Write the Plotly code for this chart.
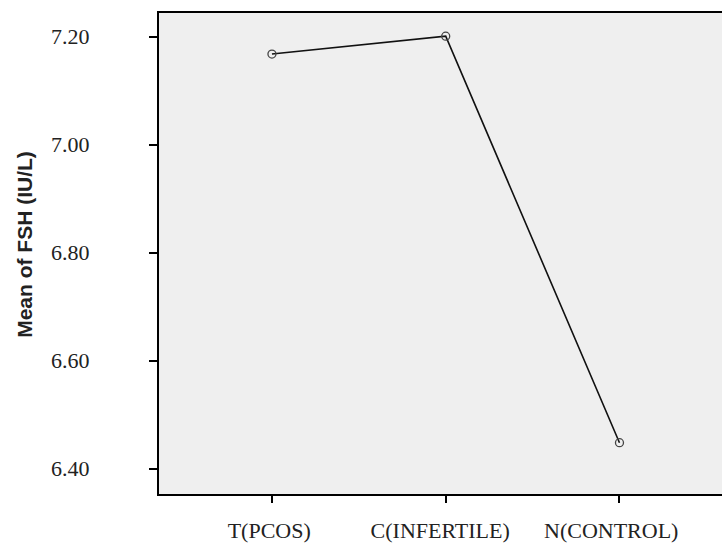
import plotly.graph_objects as go

groups = ["T(PCOS)", "C(INFERTILE)", "N(CONTROL)"]
mean_fsh = [7.168, 7.201, 6.448]
y_ticks = [6.40, 6.60, 6.80, 7.00, 7.20]
y_tick_labels = ["6.40", "6.60", "6.80", "7.00", "7.20"]
y_title = "Mean of FSH (IU/L)"

serif = "'Liberation Serif', 'Times New Roman', 'DejaVu Serif', serif"

# small trailing padding so the labels sit slightly left of their ticks, as in the source
pad = ["\u00a0", "\u00a0\u00a0", "\u00a0\u00a0\u00a0"]
x_text = [g + p for g, p in zip(groups, pad)]

fig = go.Figure()
fig.add_trace(go.Scatter(
    x=[0, 1, 2], y=mean_fsh, mode="lines+markers",
    line=dict(color="#111111", width=1.6),
    marker=dict(symbol="circle-open", size=8, color="#444444", line=dict(width=1.3)),
    showlegend=False,
))

fig.update_layout(
    width=722, height=543,
    margin=dict(l=159, r=0, t=13, b=49),
    paper_bgcolor="white",
    plot_bgcolor="#efefef",
    xaxis=dict(
        range=[-0.65, 2.59],
        tickmode="array", tickvals=[0, 1, 2], ticktext=x_text,
        showgrid=False, zeroline=False,
        showline=True, linecolor="black", linewidth=2, mirror=True,
        ticks="outside", ticklen=7, tickwidth=2, tickcolor="black",
        tickfont=dict(family=serif, size=22, color="#222222"),
        ticklabelstandoff=9,
    ),
    yaxis=dict(
        range=[6.353, 7.244],
        tickmode="array", tickvals=y_ticks, ticktext=y_tick_labels,
        showgrid=False, zeroline=False,
        showline=True, linecolor="black", linewidth=2,
        ticks="outside", ticklen=8, tickwidth=2, tickcolor="black",
        tickfont=dict(family=serif, size=22, color="#222222"),
        ticklabelstandoff=55,
    ),
    annotations=[dict(
        text=y_title, textangle=-90, showarrow=False,
        xref="paper", yref="paper", x=0, y=0.518,
        xshift=-134, xanchor="center", yanchor="middle",
        font=dict(family="'Liberation Sans', Arial, sans-serif", size=21, color="#222222", weight="bold"),
    )],
)

fig.write_html("out.html")
